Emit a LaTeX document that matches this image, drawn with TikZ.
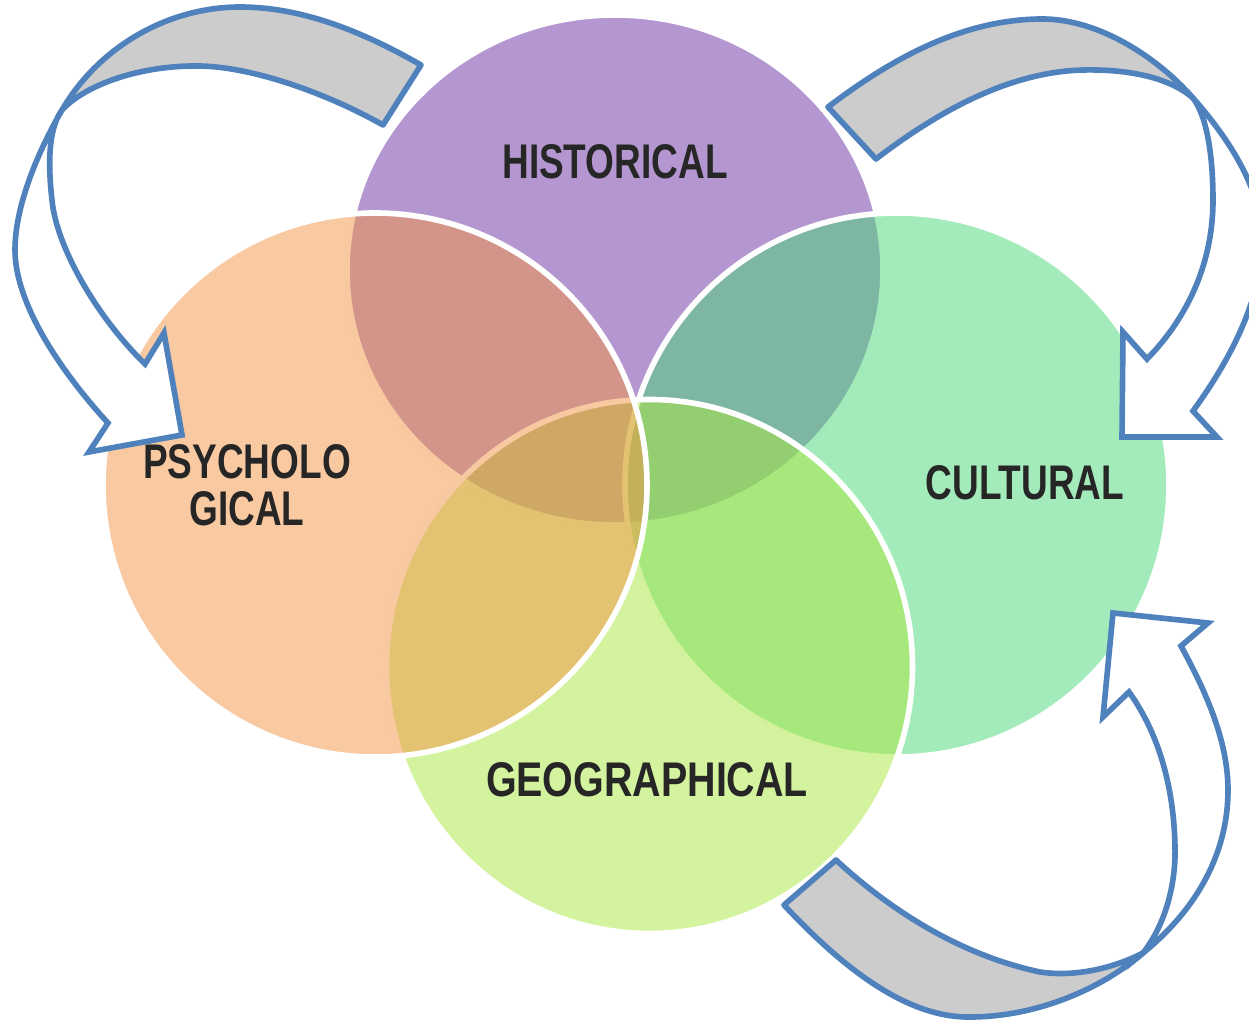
\documentclass[tikz,border=0pt]{standalone}
\usepackage{fontspec}
\newfontfamily\vennfont{Liberation Sans}[FakeStretch=0.76]
\newfontfamily\widevennfont{Liberation Sans}[FakeStretch=0.81]
\usepackage{tikz}

\definecolor{histfill}{RGB}{105,47,161}
\definecolor{cultfill}{RGB}{73,215,119}
\definecolor{geofill}{RGB}{169,231,63}
\definecolor{psyfill}{RGB}{243,147,69}
\definecolor{arrowblue}{RGB}{79,129,189}
\definecolor{arrowgray}{RGB}{204,204,204}
\definecolor{wordgray}{RGB}{38,38,38}

\begin{document}
\begin{tikzpicture}[x=0.02cm, y=-0.02cm]
    \tikzset{circ/.style={draw=white, line width=3.2pt, fill opacity=0.5},
             word/.style={inner sep=0pt, text=wordgray, align=center,
                 font=\vennfont\bfseries\fontsize{27.7}{26.7}\selectfont},
             back/.style={draw=arrowblue, line width=3.2pt, fill=arrowgray, line join=round},
             front/.style={draw=arrowblue, line width=3.2pt, fill=white, line join=miter}}
    \useasboundingbox (0,0) rectangle (1249,1020);
    \clip (0,0) rectangle (1249,1020);

    % the four sets
    \draw[circ, fill=histfill] (615,270) ellipse [x radius=268, y radius=255];
    \draw[circ, fill=cultfill] (897,485) circle [radius=272];
    \draw[circ, fill=geofill] (649.5,666.5) ellipse [x radius=263, y radius=267];
    \draw[circ, fill=psyfill] (375,485) circle [radius=272];

    \node[word] (hist) at (615,162) {HISTORICAL};
    \node[word] (psy) at (247,485) {PSYCHOLO\\GICAL};
    \node[word] (cult) at (1025,483) {CULTURAL};
    \node[word, font=\widevennfont\bfseries\fontsize{27.7}{26.7}\selectfont] (geo) at (647,780) {GEOGRAPHICAL};

    % top left arrow
    \filldraw[back] (421,65) .. controls (360,30) and (300,7) .. (240,7)
        .. controls (170,7) and (100,45) .. (62,110)
        .. controls (85,85) and (140,65) .. (200,66)
        .. controls (255,67) and (330,95) .. (383,125) -- cycle;
    \filldraw[front] (62,110) .. controls (44,141) and (15,200) .. (15,250)
        .. controls (15,300) and (55,365) .. (108,423)
        -- (89,452) -- (182,435) -- (164,333) -- (145,364)
        .. controls (95,315) and (56,245) .. (52,200)
        .. controls (48,165) and (48,129) .. (62,110) -- cycle;

    % top right arrow
    \filldraw[back] (828,107) .. controls (890,60) and (960,20) .. (1040,19)
        .. controls (1100,18) and (1160,60) .. (1193,98)
        .. controls (1170,78) and (1130,69) .. (1083,70)
        .. controls (1010,72) and (940,110) .. (876,159) -- cycle;
    \filldraw[front] (1193,98) .. controls (1230,140) and (1262,190) .. (1262,240)
        .. controls (1262,300) and (1230,360) .. (1193,411)
        -- (1217,437) -- (1122,437) -- (1123,332) -- (1147,359)
        .. controls (1190,315) and (1213,260) .. (1213,200)
        .. controls (1213,160) and (1208,118) .. (1193,98) -- cycle;

    % bottom right arrow
    \filldraw[back] (784,905) .. controls (840,965) and (905,1018) .. (970,1017)
        .. controls (1035,1017) and (1100,990) .. (1143,953)
        .. controls (1120,965) and (1080,978) .. (1040,972)
        .. controls (960,955) and (890,910) .. (836,860) -- cycle;
    \filldraw[front] (1143,953) .. controls (1190,915) and (1228,860) .. (1228,790)
        .. controls (1228,740) and (1205,690) .. (1181,646)
        -- (1208,623) -- (1113,613) -- (1103,717) -- (1129,692)
        .. controls (1160,735) and (1174,790) .. (1175,847)
        .. controls (1176,885) and (1165,925) .. (1143,953) -- cycle;
\end{tikzpicture}
\end{document}
